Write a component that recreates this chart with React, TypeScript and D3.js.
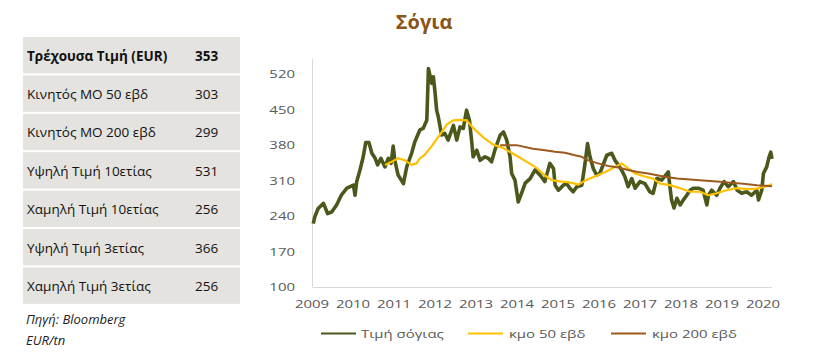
import React from "react";
import * as d3 from "d3";

// ---------- Data ----------
const priceYears = [2009.03,2009.07,2009.15,2009.28,2009.38,2009.48,2009.60,2009.72,2009.85,2009.93,2010.01,2010.05,2010.09,2010.17,2010.25,2010.31,2010.39,2010.46,2010.54,2010.60,2010.68,2010.78,2010.86,2010.93,2010.98,2011.02,2011.10,2011.23,2011.31,2011.43,2011.51,2011.63,2011.71,2011.80,2011.84,2011.92,2011.96,2012.00,2012.04,2012.08,2012.16,2012.24,2012.32,2012.45,2012.53,2012.61,2012.69,2012.77,2012.84,2012.90,2012.93,2013.02,2013.10,2013.22,2013.30,2013.38,2013.46,2013.59,2013.67,2013.75,2013.83,2013.87,2013.95,2014.03,2014.11,2014.20,2014.32,2014.44,2014.56,2014.68,2014.80,2014.89,2014.93,2015.01,2015.13,2015.21,2015.29,2015.37,2015.46,2015.58,2015.66,2015.72,2015.78,2015.86,2015.94,2016.02,2016.10,2016.19,2016.31,2016.39,2016.47,2016.55,2016.63,2016.71,2016.80,2016.88,2017.00,2017.12,2017.24,2017.32,2017.41,2017.53,2017.69,2017.73,2017.77,2017.83,2017.90,2017.98,2018.06,2018.14,2018.22,2018.30,2018.42,2018.54,2018.63,2018.67,2018.75,2018.87,2018.95,2019.05,2019.15,2019.28,2019.37,2019.48,2019.60,2019.72,2019.85,2019.89,2019.97,2020.01,2020.09,2020.15,2020.19,2020.22];
const priceValues = [225,239,255,265,245,248,262,282,295,298,301,281,308,331,357,385,385,364,354,341,354,337,354,344,378,350,321,304,337,364,387,410,413,429,531,502,515,485,449,436,400,403,390,419,390,416,413,449,429,383,357,370,350,357,354,347,370,400,406,390,357,324,311,268,285,305,314,331,321,308,344,334,301,291,301,304,295,288,298,301,344,383,357,334,321,324,341,360,364,350,341,331,318,298,314,295,308,304,288,285,314,311,327,298,272,256,275,262,272,281,291,295,295,291,262,281,291,281,295,308,298,308,291,285,288,281,291,272,291,324,337,357,366,353];

const ma50Years = [2010.78,2010.94,2011.10,2011.27,2011.43,2011.55,2011.63,2011.76,2011.92,2012.16,2012.29,2012.45,2012.61,2012.77,2012.93,2013.18,2013.42,2013.67,2013.99,2014.24,2014.48,2014.68,2014.85,2015.09,2015.25,2015.50,2015.66,2015.90,2016.15,2016.39,2016.55,2016.71,2016.88,2017.12,2017.32,2017.49,2017.73,2017.98,2018.22,2018.46,2018.67,2018.87,2019.11,2019.36,2019.60,2019.85,2020.05,2020.22];
const ma50Values = [341,347,354,350,341,344,354,362,378,405,421,429,430,429,414,395,381,374,359,347,335,320,311,308,307,302,310,318,327,337,344,334,324,318,314,304,301,295,288,288,281,285,291,295,293,294,298,303];

const ma200Years = [2013.59,2013.99,2014.39,2014.68,2014.93,2015.17,2015.41,2015.58,2015.74,2015.98,2016.23,2016.47,2016.71,2016.95,2017.20,2017.57,2017.90,2018.22,2018.54,2018.87,2019.20,2019.52,2019.85,2020.22];
const ma200Values = [380,380,373,370,367,365,360,357,350,344,339,336,331,327,324,318,314,312,310,308,306,304,301,299];

const yearTicks = [2009,2010,2011,2012,2013,2014,2015,2016,2017,2018,2019,2020];
const valueTicks = [100,170,240,310,380,450,520];

const tableLabels = ["Τρέχουσα Τιμή (EUR)","Κινητός ΜΟ 50 εβδ","Κινητός ΜΟ 200 εβδ","Υψηλή Τιμή 10ετίας","Χαμηλή Τιμή 10ετίας","Υψηλή Τιμή 3ετίας","Χαμηλή Τιμή 3ετίας"];
const tableValues = [353,303,299,531,256,366,256];

const seriesNames = ["Τιμή σόγιας","κμο 50 εβδ","κμο 200 εβδ"];
const seriesColors = ["#4b581c","#ffc000","#9c5a1e"];

const FONT = "'Open Sans', 'Noto Sans', sans-serif";
const SX = 1.3; // horizontal stretch of chart texts

export default function App() {
  const x = d3.scaleLinear().domain([2009, 2020]).range([312, 763]);
  const y = d3.scaleLinear().domain([100, 550]).range([287, 59]);

  const mk = (xs: number[], vs: number[]) =>
    d3.line<number>().x((_, i) => x(xs[i])).y((v) => y(v))(vs) || "";

  const paths = [
    { d: mk(priceYears, priceValues), w: 3.6 },
    { d: mk(ma50Years, ma50Values), w: 2.2 },
    { d: mk(ma200Years, ma200Values), w: 2 },
  ];

  const rowTop = 37;
  const rowH = 38.4;
  const legendItems = [
    { lx: 321, tx: 361 },
    { lx: 468, tx: 509 },
    { lx: 611, tx: 652 },
  ];

  return (
    <svg width={825} height={357} style={{ position: "absolute", left: 0, top: 0, background: "#fff" }}>
      {/* table */}
      {tableLabels.map((lab, i) => {
        const top = rowTop + i * rowH;
        return (
          <g key={lab}>
            <rect x={23} y={top} width={217} height={rowH - 2} fill="#e4e3df" />
            <text x={27} y={top + 23.5} fontFamily={FONT} fontSize={13.5} fontWeight={i === 0 ? 700 : 400} fill="#111">
              {lab}
            </text>
            <text x={195} y={top + 23.5} fontFamily={FONT} fontSize={13.5} fontWeight={i === 0 ? 700 : 400} fill="#111">
              {tableValues[i]}
            </text>
          </g>
        );
      })}
      <text x={26} y={324} fontFamily={FONT} fontSize={13} fontStyle="italic" fill="#222">Πηγή: Bloomberg</text>
      <text x={26} y={345} fontFamily={FONT} fontSize={13} fontStyle="italic" fill="#222">EUR/tn</text>

      {/* title */}
      <text x={424} y={29} textAnchor="middle" fontFamily={FONT} fontSize={20} fontWeight={700} fill="#8a5518">Σόγια</text>

      {/* axes */}
      <line x1={312.5} x2={312.5} y1={59} y2={287} stroke="#d9d9d9" strokeWidth={1} />
      <line x1={312.5} x2={772} y1={287.5} y2={287.5} stroke="#d9d9d9" strokeWidth={1} />
      {valueTicks.map((v) => (
        <text key={v} transform={`translate(295,${y(v) + 4}) scale(${SX},1)`} textAnchor="end"
          fontFamily={FONT} fontSize={11.5} fill="#595959">{v}</text>
      ))}
      {yearTicks.map((t) => (
        <text key={t} transform={`translate(${x(t)},308) scale(${SX},1)`} textAnchor="middle"
          fontFamily={FONT} fontSize={11.5} fill="#595959">{t}</text>
      ))}

      {/* series */}
      {paths.map((p, i) => (
        <path key={i} d={p.d} fill="none" stroke={seriesColors[i]} strokeWidth={p.w} strokeLinejoin="round" />
      ))}

      {/* legend */}
      {legendItems.map((it, i) => (
        <g key={i}>
          <line x1={it.lx} x2={it.lx + 35} y1={333.5} y2={333.5} stroke={seriesColors[i]} strokeWidth={2.2} />
          <text transform={`translate(${it.tx},338) scale(${SX},1)`} fontFamily={FONT} fontSize={11.5} fill="#595959">
            {seriesNames[i]}
          </text>
        </g>
      ))}
    </svg>
  );
}
